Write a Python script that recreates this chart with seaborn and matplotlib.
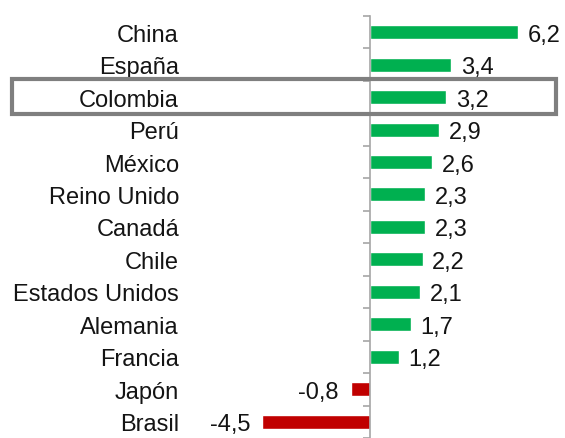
import numpy as np
import pandas as pd
import matplotlib
matplotlib.use("Agg")
import matplotlib.pyplot as plt
import matplotlib.transforms as mtransforms
from matplotlib.patches import Rectangle
import seaborn as sns

# datos
paises = ["China", "España", "Colombia", "Perú", "México", "Reino Unido", "Canadá",
          "Chile", "Estados Unidos", "Alemania", "Francia", "Japón", "Brasil"]
valores = [6.2, 3.4, 3.2, 2.9, 2.6, 2.3, 2.3, 2.2, 2.1, 1.7, 1.2, -0.8, -4.5]
etiquetas = ["6,2", "3,4", "3,2", "2,9", "2,6", "2,3", "2,3", "2,2", "2,1", "1,7", "1,2", "-0,8", "-4,5"]

df = pd.DataFrame({"pais": paises, "valor": valores})
verde = "#00B050"
rojo = "#C00000"
colores = [verde if v >= 0 else rojo for v in valores]

sns.set_style("white")
plt.rcParams["font.family"] = ["Liberation Sans", "DejaVu Sans"]

fig = plt.figure(figsize=(5.65, 4.39), dpi=100)
ax = fig.add_axes([0, 0, 1, 1])

sns.barplot(data=df, x="valor", y="pais", hue="pais", palette=colores, saturation=1,
            legend=False, width=0.43, orient="h", ax=ax)

# escala: cero en x=370 px, ~23.9 px por unidad
ax.set_xlim(-15.48, 8.16)
ax.set_ylim(12.40, -1.02)

for s in ["top", "right", "bottom"]:
    ax.spines[s].set_visible(False)
ax.spines["left"].set_position(("data", 0))
ax.spines["left"].set_color("#A6A6A6")
ax.spines["left"].set_linewidth(1.2)
ax.spines["left"].set_bounds(-0.5, 12.5)
ax.set_xticks([])
ax.set_yticks(np.arange(-0.5, 13, 1))
ax.set_yticklabels([])
ax.tick_params(axis="y", direction="out", length=5, color="#A6A6A6", width=1.2, left=True)
ax.set_xlabel("")
ax.set_ylabel("")

# nombres de los paises
trans = mtransforms.blended_transform_factory(fig.transFigure, ax.transData)
for i, p in enumerate(paises):
    ax.text(179 / 565, i, p, transform=trans, ha="right", va="center_baseline",
            fontsize=17, color="#141414")

# etiquetas de valor
for i, (v, t) in enumerate(zip(valores, etiquetas)):
    if v >= 0:
        ax.text(v + 0.4, i, t, ha="left", va="center_baseline", fontsize=17, color="#141414")
    else:
        ax.text(v - 0.5, i, t, ha="right", va="center_baseline", fontsize=17, color="#141414")

# recuadro de Colombia
caja = Rectangle((12 / 565, 1 - 115 / 439), 544 / 565, 35 / 439, transform=fig.transFigure,
                 fill=False, edgecolor="#7F7F7F", linewidth=3)
fig.patches.append(caja)

fig.savefig("out.png", dpi=100)
